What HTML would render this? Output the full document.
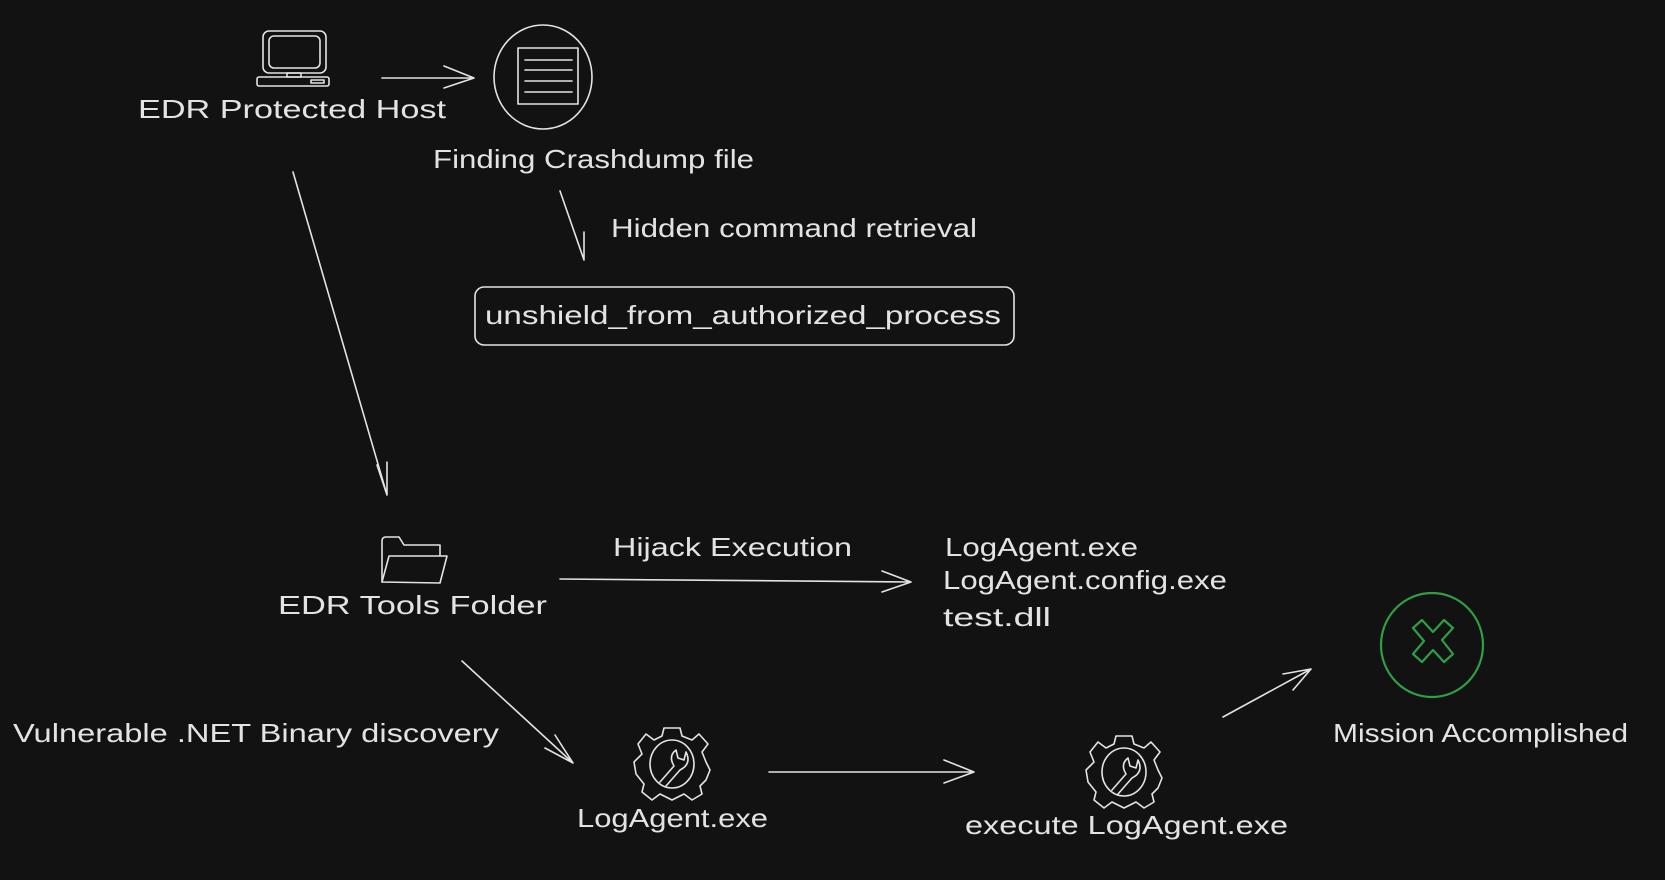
<!DOCTYPE html>
<html><head><meta charset="utf-8"><style>
html,body{margin:0;padding:0;background:#121212;}
svg{display:block}
text{font-family:"Liberation Sans",sans-serif;fill:#e3e3e3;font-size:26px;}
</style></head><body>
<svg width="1665" height="880" viewBox="0 0 1665 880" xmlns="http://www.w3.org/2000/svg">
<rect width="1665" height="880" fill="#121212"/>
<g stroke="#e3e3e3" stroke-width="1.6" fill="none" stroke-linecap="round" stroke-linejoin="round">
<!-- monitor -->
<rect x="263" y="31" width="63" height="42" rx="6"/>
<rect x="269" y="36" width="51" height="32" rx="5"/>
<rect x="287" y="73" width="14" height="4"/>
<rect x="257" y="77" width="72" height="9" rx="2"/>
<rect x="311" y="80" width="13" height="3"/>
<!-- doc circle -->
<ellipse cx="543" cy="77" rx="49" ry="52"/>
<rect x="518" y="48" width="60" height="56"/>
<line x1="525" y1="60" x2="572" y2="60"/><line x1="525" y1="70" x2="572" y2="70"/>
<line x1="525" y1="81" x2="572" y2="81"/><line x1="525" y1="92" x2="572" y2="92"/>
<!-- arrows -->
<path d="M382 78 L474 78 M444 66 L474 78 L444 88"/>
<path d="M560 191 L584 260 M575 234 L584 260 L584 232"/>
<path d="M293 172 L387 495 M377 465 L387 495 L387 462"/>
<path d="M560 579 L911 582 M882 571 L911 582 L882 592"/>
<path d="M462 661 L573 763 M555 735 L573 763 L545 748"/>
<path d="M769 772 L974 772 M944 760 L974 772 L944 783"/>
<path d="M1223 717 L1311 669 M1283 674 L1311 669 L1293 690"/>
<!-- box -->
<rect x="475" y="287" width="539" height="58" rx="9"/>
<!-- folder -->
<path d="M382 582 L382 541 Q382 537 386 537 L399 537 L404 545 L440 545 L440 555"/>
<path d="M382 582 L389 556 L447 556 L440 583 Z"/>
<!-- gears -->
<g transform="translate(672,764)">
<path d="M-8 -36 L8 -36 L10 -28 L20 -24 L27 -30 L36 -20 L30 -12 L34 -2 L38 6 L34 16 L28 22 L30 30 L20 36 L12 30 L0 36 L-12 30 L-20 36 L-30 28 L-28 20 L-36 10 L-38 -2 L-30 -10 L-34 -20 L-26 -30 L-18 -24 L-10 -28 Z"/>
<ellipse cx="0" cy="0" rx="22" ry="24"/>
<path d="M-12 18 L2 2 Q-4 -8 4 -14 L6 -6 L12 -4 L14 -12 Q20 0 8 6 L-6 22"/>
</g>
<g transform="translate(1124,772)">
<path d="M-8 -36 L8 -36 L10 -28 L20 -24 L27 -30 L36 -20 L30 -12 L34 -2 L38 6 L34 16 L28 22 L30 30 L20 36 L12 30 L0 36 L-12 30 L-20 36 L-30 28 L-28 20 L-36 10 L-38 -2 L-30 -10 L-34 -20 L-26 -30 L-18 -24 L-10 -28 Z"/>
<ellipse cx="0" cy="0" rx="22" ry="24"/>
<path d="M-12 18 L2 2 Q-4 -8 4 -14 L6 -6 L12 -4 L14 -12 Q20 0 8 6 L-6 22"/>
</g>
</g>
<!-- green -->
<g stroke="#2f9e44" stroke-width="2.2" fill="none" stroke-linejoin="round">
<ellipse cx="1432" cy="645" rx="51" ry="52"/>
<path d="M1413 628 L1422 620 L1433 632 L1444 620 L1453 628 L1442 640 L1453 654 L1444 662 L1433 650 L1422 662 L1413 654 L1424 641 Z"/>
</g>
<!-- text -->
<text x="138" y="118" textLength="308" lengthAdjust="spacingAndGlyphs">EDR Protected Host</text>
<text x="433" y="168" textLength="321" lengthAdjust="spacingAndGlyphs">Finding Crashdump file</text>
<text x="611" y="237" textLength="366" lengthAdjust="spacingAndGlyphs">Hidden command retrieval</text>
<text x="485" y="324" textLength="516" lengthAdjust="spacingAndGlyphs">unshield_from_authorized_process</text>
<text x="613" y="556" textLength="239" lengthAdjust="spacingAndGlyphs">Hijack Execution</text>
<text x="945" y="556" textLength="193" lengthAdjust="spacingAndGlyphs">LogAgent.exe</text>
<text x="943" y="589" textLength="284" lengthAdjust="spacingAndGlyphs">LogAgent.config.exe</text>
<text x="943" y="626" textLength="108" lengthAdjust="spacingAndGlyphs">test.dll</text>
<text x="278" y="614" textLength="269" lengthAdjust="spacingAndGlyphs">EDR Tools Folder</text>
<text x="13" y="742" textLength="486" lengthAdjust="spacingAndGlyphs">Vulnerable .NET Binary discovery</text>
<text x="577" y="827" textLength="191" lengthAdjust="spacingAndGlyphs">LogAgent.exe</text>
<text x="965" y="834" textLength="323" lengthAdjust="spacingAndGlyphs">execute LogAgent.exe</text>
<text x="1333" y="742" textLength="295" lengthAdjust="spacingAndGlyphs">Mission Accomplished</text>
</svg>
</body></html>
